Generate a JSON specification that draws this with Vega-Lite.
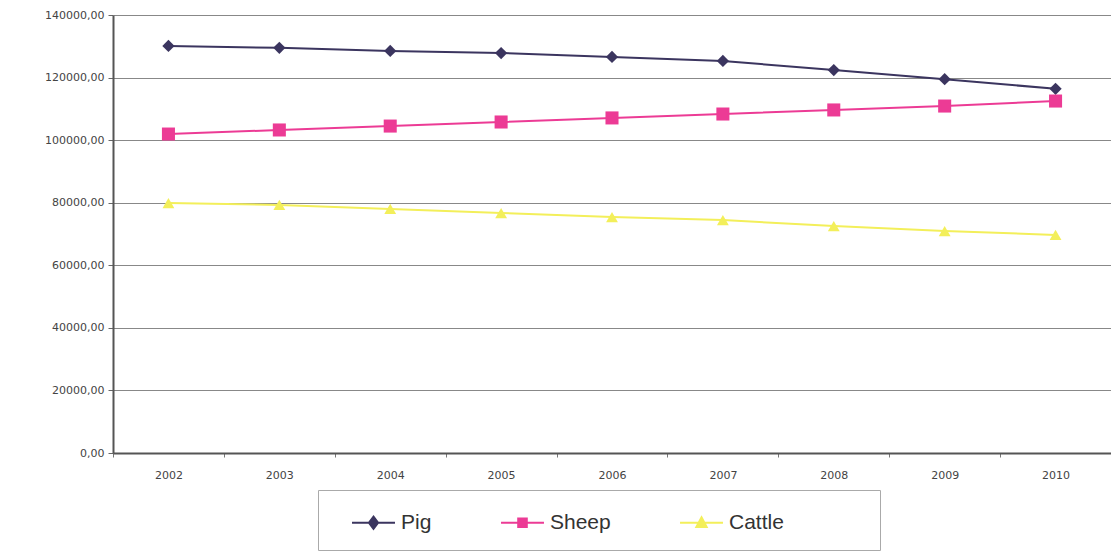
{
  "$schema": "https://vega.github.io/schema/vega-lite/v6.json",
  "width": 998,
  "height": 438,
  "autosize": {"type": "none"},
  "padding": {"left": 113, "top": 15, "right": 0, "bottom": 100},
  "background": "white",
  "data": {
    "values": [
      {"year": "2002", "animal": "Pig", "value": 130100},
      {"year": "2003", "animal": "Pig", "value": 129500},
      {"year": "2004", "animal": "Pig", "value": 128500},
      {"year": "2005", "animal": "Pig", "value": 127850},
      {"year": "2006", "animal": "Pig", "value": 126600},
      {"year": "2007", "animal": "Pig", "value": 125300},
      {"year": "2008", "animal": "Pig", "value": 122400},
      {"year": "2009", "animal": "Pig", "value": 119500},
      {"year": "2010", "animal": "Pig", "value": 116400},
      {"year": "2002", "animal": "Sheep", "value": 101950},
      {"year": "2003", "animal": "Sheep", "value": 103250},
      {"year": "2004", "animal": "Sheep", "value": 104500},
      {"year": "2005", "animal": "Sheep", "value": 105800},
      {"year": "2006", "animal": "Sheep", "value": 107100},
      {"year": "2007", "animal": "Sheep", "value": 108350},
      {"year": "2008", "animal": "Sheep", "value": 109650},
      {"year": "2009", "animal": "Sheep", "value": 110900},
      {"year": "2010", "animal": "Sheep", "value": 112500},
      {"year": "2002", "animal": "Cattle", "value": 79900},
      {"year": "2003", "animal": "Cattle", "value": 79300},
      {"year": "2004", "animal": "Cattle", "value": 78000},
      {"year": "2005", "animal": "Cattle", "value": 76700},
      {"year": "2006", "animal": "Cattle", "value": 75400},
      {"year": "2007", "animal": "Cattle", "value": 74450},
      {"year": "2008", "animal": "Cattle", "value": 72550},
      {"year": "2009", "animal": "Cattle", "value": 70950},
      {"year": "2010", "animal": "Cattle", "value": 69700}
    ]
  },
  "config": {
    "font": "Liberation Sans",
    "view": {"stroke": null}
  },
  "encoding": {
    "x": {
      "field": "year",
      "type": "ordinal",
      "scale": {"type": "band", "paddingInner": 0, "paddingOuter": 0},
      "axis": {
        "title": null,
        "labelAngle": 0,
        "labelFont": "DejaVu Sans",
        "labelFontSize": 11,
        "labelColor": "#444",
        "labelPadding": 12,
        "tickBand": "extent",
        "tickSize": 4,
        "tickColor": "#777",
        "domainColor": "#555",
        "domainWidth": 2,
        "grid": false
      }
    },
    "y": {
      "field": "value",
      "type": "quantitative",
      "scale": {"domain": [0, 140000], "nice": false},
      "axis": {
        "title": null,
        "values": [0, 20000, 40000, 60000, 80000, 100000, 120000, 140000],
        "labelExpr": "replace(format(datum.value, '.2f'), '.', ',')",
        "labelFont": "DejaVu Sans",
        "labelFontSize": 11,
        "labelColor": "#444",
        "labelPadding": 4,
        "tickSize": 5,
        "tickColor": "#666",
        "domainColor": "#555",
        "domainWidth": 2,
        "grid": true,
        "gridColor": "#888",
        "gridWidth": 1
      }
    }
  },
  "layer": [
    {
      "mark": {"type": "line", "strokeWidth": 2},
      "encoding": {
        "color": {
          "field": "animal",
          "type": "nominal",
          "sort": ["Pig", "Sheep", "Cattle"],
          "scale": {"domain": ["Pig", "Sheep", "Cattle"], "range": ["#3b355f", "#ec3b95", "#f3ef5a"]},
          "legend": {
            "title": " ",
            "titleOrient": "right",
            "titlePadding": 79,
            "orient": "none",
            "legendX": 205,
            "legendY": 475,
            "direction": "horizontal",
            "padding": 17,
            "strokeColor": "#aaa",
            "fillColor": "white",
            "labelFontSize": 21,
            "labelColor": "#333",
            "labelOffset": 12,
            "columnPadding": 52,
            "symbolSize": 820,
            "symbolOffset": 23,
            "symbolStrokeWidth": 2,
            "encode": {
              "symbols": {
                "update": {
                  "shape": {"signal": "datum.value == 'Pig' ? 'M-1.5,0L1.5,0M0,-0.42L0.32,0L0,0.42L-0.32,0Z' : datum.value == 'Sheep' ? 'M-1.5,0L1.5,0M-0.3,-0.3L0.3,-0.3L0.3,0.3L-0.3,0.3Z' : 'M-1.5,0L1.5,0M0,-0.38L0.36,0.3L-0.36,0.3Z'"},
                  "stroke": {"scale": "color", "field": "value"},
                  "fill": {"scale": "color", "field": "value"},
                  "strokeWidth": {"value": 2}
                }
              }
            }
          }
        }
      }
    },
    {
      "transform": [{"filter": "datum.animal == 'Pig'"}],
      "mark": {"type": "point", "filled": true, "opacity": 1, "shape": "diamond", "size": 150, "color": "#3b355f"}
    },
    {
      "transform": [{"filter": "datum.animal == 'Sheep'"}],
      "mark": {"type": "point", "filled": true, "opacity": 1, "shape": "square", "size": 170, "color": "#ec3b95"}
    },
    {
      "transform": [{"filter": "datum.animal == 'Cattle'"}],
      "mark": {"type": "point", "filled": true, "opacity": 1, "shape": "triangle-up", "size": 140, "color": "#f3ef5a"}
    }
  ]
}
